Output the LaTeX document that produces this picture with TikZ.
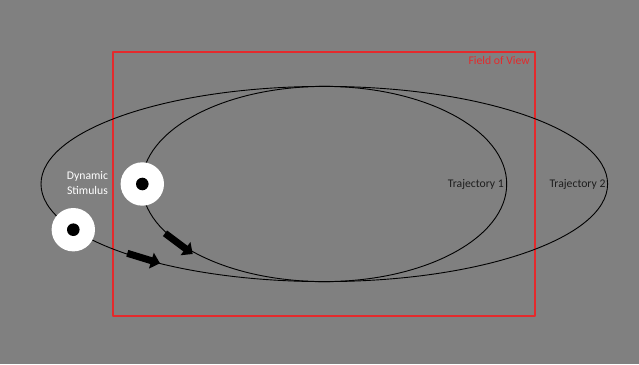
\documentclass[tikz,border=0pt]{standalone}
\usepackage{fontspec}
\setmainfont{Carlito}
\usetikzlibrary{arrows.meta}
\definecolor{bggray}{HTML}{808080}
\definecolor{fovred}{HTML}{E42A2C}
\definecolor{txtdark}{HTML}{1E1E1E}
\begin{document}
\begin{tikzpicture}[x=1pt, y=-1pt, line join=round, line cap=round,
    lbl/.style={inner sep=0pt, font=\fontsize{11.7}{14.5}\selectfont},
    pathline/.style={line width=0.9pt},
    motion/.style={line width=7pt, line cap=butt, -{Triangle[length=9pt,width=16pt]}}]
	\fill[bggray] (0,0) rectangle (639,364);
	\useasboundingbox (0,0) rectangle (639,364);
	
	\coordinate (O) at (324.3,184);
	\coordinate (P) at (142.3,184);
	\coordinate (Q) at (73.3,229.7);
	\coordinate (A1) at (127.3,253.3);
	\coordinate (B1) at (160,263.3);
	\coordinate (A2) at (165,233.3);
	\coordinate (B2) at (192.7,254);
	
	% field of view
	\draw[fovred, line width=1.4pt] (113,52) rectangle (535,316);
	
	% trajectories
	\draw[pathline] (O) ellipse [x radius=283.3pt, y radius=97.6pt];
	\draw[pathline] (O) ellipse [x radius=182.4pt, y radius=97.6pt];
	
	\draw[motion] (A1) -- (B1);
	\draw[motion] (A2) -- (B2);
	
	% stimuli
	\fill[white] (P) circle (21.7pt);
	\fill[black] (P) circle (6.3pt);
	\fill[white] (Q) circle (21.7pt);
	\fill[black] (Q) circle (6.3pt);
	
	\node[lbl, text=fovred, anchor=base east] (fov) at (530,64) {Field of View};
	\node[lbl, text=txtdark, anchor=base east] (traj1) at (504,187.5) {Trajectory 1};
	\node[lbl, text=txtdark, anchor=base west] (traj2) at (549.3,187.5) {Trajectory 2};
	\node[lbl, text=white, align=center] (stim) at (87.5,183) {Dynamic\\Stimulus};
\end{tikzpicture}
\end{document}
